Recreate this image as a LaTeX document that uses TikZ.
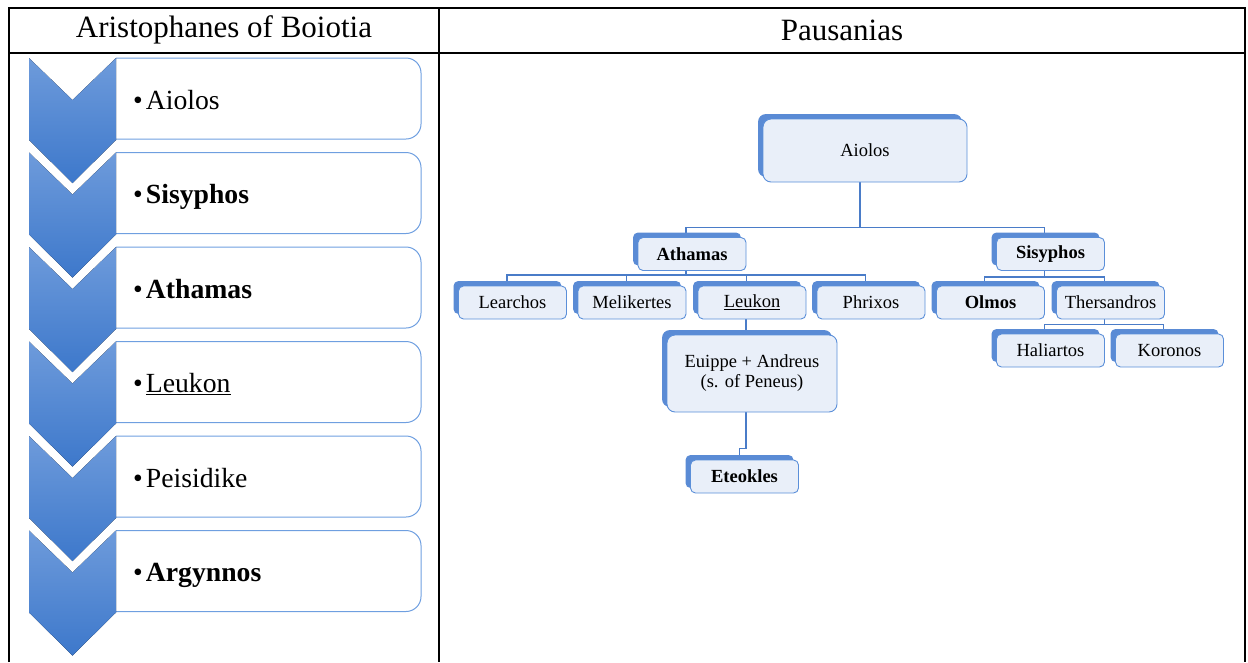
\documentclass[tikz,border=0pt]{standalone}
\usepackage{fontspec}
\setmainfont{Liberation Serif}
\usetikzlibrary{shadows,backgrounds}

\definecolor{chevtop}{HTML}{6E9BDB}
\definecolor{chevbot}{HTML}{3D78CB}
\definecolor{boxline}{HTML}{6F9FE0}
\definecolor{memfill}{HTML}{E9EFF9}
\definecolor{memline}{HTML}{5B8FD9}
\definecolor{shadeblue}{HTML}{5A8BD5}
\definecolor{linkblue}{HTML}{4A7CC8}

\newcommand\headfont{\fontsize{31}{34}\selectfont}
\newcommand\listfont{\fontsize{27.7}{30}\selectfont}
\newcommand\chartfont{\fontsize{18.5}{20}\selectfont}

\tikzset{
  tab/.style={line width=2pt},
  chev/.style={top color=chevtop, bottom color=chevbot, draw=none},
  stepbox/.style={draw=boxline, line width=1pt, rounded corners=15pt},
  member/.style={draw=memline, fill=memfill, line width=0.9pt, rounded corners=5pt,
    minimum width=108pt, minimum height=33pt, inner sep=0pt, font=\chartfont,
    general shadow={fill=shadeblue, draw=none, shadow xshift=-5pt, shadow yshift=5pt}},
  link/.style={draw=linkblue, line width=1.2pt},
}

\begin{document}
\begin{tikzpicture}[x=1pt,y=-1pt]
\useasboundingbox (0,0) rectangle (1248,662);

% table
\draw[tab] (9,662) -- (9,8) -- (1245,8) -- (1245,662);
\draw[tab] (9,52.5) -- (1245,52.5);
\draw[tab] (439,8) -- (439,662);
\node[font=\headfont] (hleft) at (224,30) {Aristophanes of Boiotia};
\node[font=\headfont] (hright) at (842,30) {Pausanias};

% left column: chevron list
\foreach \i/\txt in {0/Aiolos,1/\textbf{Sisyphos},2/\textbf{Athamas},3/\underline{Leukon},4/Peisidike,5/\textbf{Argynnos}}{
  \pgfmathsetmacro\yo{58+94.5*\i}
  \draw[stepbox] (116,\yo) -- (421,\yo) -- (421,\yo+81) -- (116,\yo+81);
  \fill[chev] (29,\yo) -- (72.5,\yo+42) -- (116,\yo) -- (116,\yo+82)
    -- (72.5,\yo+125) -- (29,\yo+82) -- cycle;
  \node[font=\listfont, anchor=base west, inner sep=0pt] (item\i) at (133,\yo+51) {•\hspace{3pt}\txt};
}

% right column: family tree
\node[member, minimum width=204pt, minimum height=63pt, rounded corners=8pt] (aiolos) at (865,150.5) {Aiolos};
\node[member] (athamas) at (692,254) {\textbf{Athamas}};
\node[member] (sisyphos) at (1050.5,254) {\textbf{Sisyphos}};
\node[member] (learchos) at (512.5,302.5) {Learchos};
\node[member] (melikertes) at (632,302.5) {Melikertes};
\node[member] (leukon) at (752,302.5) {\underline{Leukon}};
\node[member] (phrixos) at (871,302.5) {Phrixos};
\node[member] (olmos) at (990.5,302.5) {\textbf{Olmos}};
\node[member] (thersandros) at (1110.5,302.5) {Thersandros};
\node[member] (haliartos) at (1050.5,350.5) {Haliartos};
\node[member] (koronos) at (1169.5,350.5) {Koronos};
\node[member, minimum width=170pt, minimum height=77pt, rounded corners=8pt, align=center] (euippe) at (752,373.5) {Euippe + Andreus\\(s. of Peneus)};
\node[member] (eteokles) at (744.5,476.5) {\textbf{Eteokles}};

\begin{pgfonlayer}{background}
\foreach \c in {athamas,sisyphos}
  \draw[link] ([xshift=-5]aiolos.south) -- ++(0,45) -| ([xshift=-6]\c.north);
\foreach \c in {learchos,melikertes,leukon,phrixos}
  \draw[link] ([xshift=-6]athamas.south) -- ++(0,4) -| ([xshift=-5.5]\c.north);
\foreach \c in {olmos,thersandros}
  \draw[link] ([xshift=-6]sisyphos.south) -- ++(0,6) -| ([xshift=-6]\c.north);
\foreach \c in {haliartos,koronos}
  \draw[link] ([xshift=-6]thersandros.south) -- ++(0,5) -| ([xshift=-6]\c.north);
\draw[link] ([xshift=-6]leukon.south) -- ([xshift=-6]euippe.north);
\draw[link] ([xshift=-6]euippe.south) -- ++(0,36) -| ([xshift=-5]eteokles.north);
\end{pgfonlayer}
\end{tikzpicture}
\end{document}
